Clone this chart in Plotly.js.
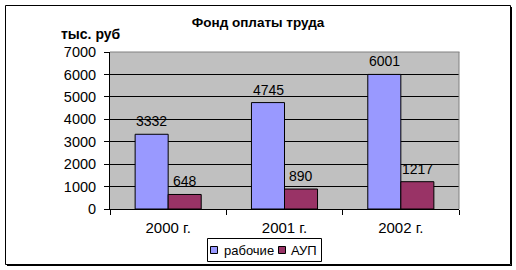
<!DOCTYPE html>
<html>
<head>
<meta charset="utf-8">
<script src="https://cdn.plot.ly/plotly-3.0.1.min.js"></script>
<style>html,body{margin:0;padding:0;background:#fff;}#chart{width:516px;height:270px;}</style>
</head>
<body>
<div id="chart"></div>
<script>
// ---- data ----
const categories = ["2000 г.", "2001 г.", "2002 г."];
const seriesNames = ["рабочие", "АУП"];
const workers = [3332, 4745, 6001];
const admin = [648, 890, 1217];
const seriesColors = ["#9999FF", "#993366"];
const yTicks = [0, 1000, 2000, 3000, 4000, 5000, 6000, 7000];
const chartTitle = "Фонд оплаты труда";
const unitLabel = "тыс. руб";

// ---- layout geometry (pixels) ----
const W = 516, H = 270;
const PL = 110, PR = 459, PT = 52, PB = 209;
const px = x => (x - PL) / (PR - PL);
const py = y => (PB - y) / (PB - PT);
const FONT = "Liberation Sans, Arial, sans-serif";

const series = [workers, admin];
const traces = series.map((vals, i) => ({
  type: "bar",
  name: seriesNames[i],
  x: categories,
  y: vals,
  marker: {color: seriesColors[i], line: {color: "#000", width: 1}},
  showlegend: false,
  hoverinfo: "none"
}));

const annotations = [];
series.forEach((vals, i) => {
  vals.forEach((v, j) => {
    annotations.push({
      x: categories[j], y: v, xref: "x", yref: "y",
      text: String(v), showarrow: false,
      xanchor: "center", yanchor: "bottom",
      xshift: i === 0 ? -16.5 : 16.5, yshift: 3,
      font: {family: FONT, size: 14, color: "#000"}
    });
  });
});
annotations.push({
  xref: "paper", yref: "paper", x: px(91), y: py(34.5),
  xanchor: "center", yanchor: "middle", showarrow: false,
  text: "<b>" + unitLabel + "</b>",
  font: {family: FONT, size: 14, color: "#000"}
});

const shapes = [];
// chart border + shadow
shapes.push({type: "rect", xref: "paper", yref: "paper", x0: px(5.5), x1: px(510.5), y0: py(5.5), y1: py(264.5), line: {color: "#000", width: 1}});
shapes.push({type: "line", xref: "paper", yref: "paper", x0: px(511.5), x1: px(511.5), y0: py(7), y1: py(265.5), line: {color: "#000", width: 1}});
shapes.push({type: "line", xref: "paper", yref: "paper", x0: px(7), x1: px(512), y0: py(265.5), y1: py(265.5), line: {color: "#000", width: 1}});
// plot area top/right border (gray)
shapes.push({type: "line", xref: "paper", yref: "paper", x0: px(PL), x1: px(PR + 0.5), y0: 1, y1: 1, line: {color: "#808080", width: 1}});
shapes.push({type: "line", xref: "paper", yref: "paper", x0: 1, x1: 1, y0: 0, y1: 1, line: {color: "#808080", width: 1}});

// custom legend
const legX0 = 207.5, legX1 = 321.5, legY0 = 238.5, legY1 = 261.5;
shapes.push({type: "rect", xref: "paper", yref: "paper", x0: px(legX0), x1: px(legX1), y0: py(legY1), y1: py(legY0), line: {color: "#000", width: 1}, fillcolor: "#fff"});
const swatchX = [210.5, 278.5];
const textX = [222, 289];
seriesNames.forEach((n, i) => {
  shapes.push({type: "rect", xref: "paper", yref: "paper", x0: px(swatchX[i]), x1: px(swatchX[i] + 7), y0: py(253.5), y1: py(246.5), fillcolor: seriesColors[i], line: {color: "#000", width: 1}});
  annotations.push({xref: "paper", yref: "paper", x: px(textX[i]), y: py(250), xanchor: "left", yanchor: "middle", showarrow: false, text: n, font: {family: FONT, size: 13, color: "#000"}});
});

const layout = {
  width: W, height: H,
  margin: {l: PL, r: W - PR, t: PT, b: H - PB, pad: 0},
  paper_bgcolor: "#fff",
  plot_bgcolor: "#C0C0C0",
  font: {family: FONT, size: 14, color: "#000"},
  title: {text: "<b>" + chartTitle + "</b>", xref: "container", yref: "container", x: 258 / W, y: 1 - 22.5 / H, xanchor: "center", yanchor: "middle", font: {family: FONT, size: 13.5, color: "#000"}},
  barmode: "group", bargap: 0.432, bargroupgap: 0,
  showlegend: false,
  xaxis: {type: "category", showline: true, linecolor: "#000", linewidth: 1, ticks: "outside", tickson: "boundaries", ticklen: 5, tickcolor: "#000", tickwidth: 1, showgrid: false, zeroline: false, ticklabelstandoff: 5, tickfont: {family: FONT, size: 15, color: "#000"}},
  yaxis: {range: [0, 7000], tickvals: yTicks, ticktext: yTicks.map(String), showline: true, linecolor: "#000", linewidth: 1, ticks: "outside", ticklen: 5, tickcolor: "#000", tickwidth: 1, showgrid: true, gridcolor: "#000", gridwidth: 1, zeroline: false, ticklabelstandoff: 5, tickfont: {family: FONT, size: 14.5, color: "#000"}},
  shapes: shapes,
  annotations: annotations
};

Plotly.newPlot("chart", traces, layout, {staticPlot: true, displayModeBar: false});
</script>
</body>
</html>
